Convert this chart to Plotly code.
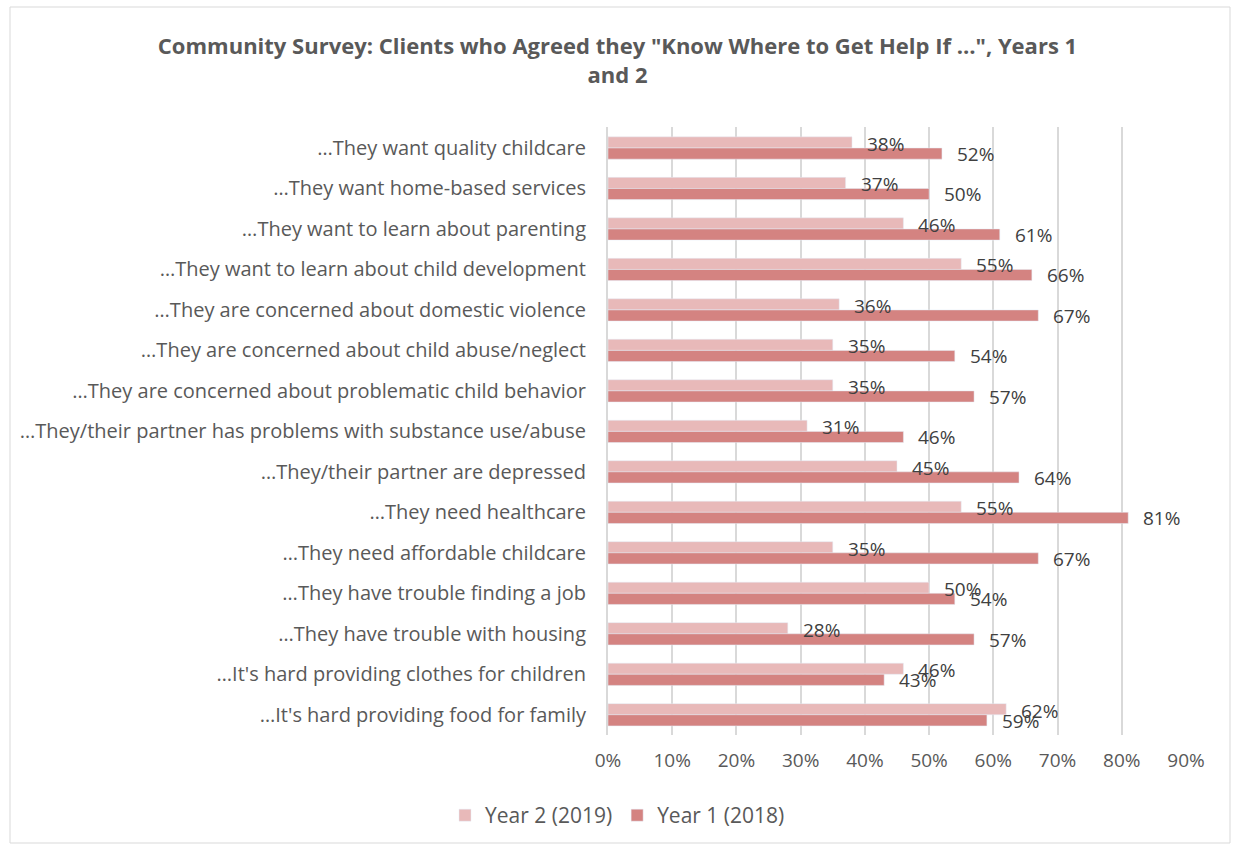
import plotly.graph_objects as go

categories = [
    "…They want quality childcare",
    "…They want home-based services",
    "…They want to learn about parenting",
    "…They want to learn about child development",
    "…They are concerned about domestic violence",
    "…They are concerned about child abuse/neglect",
    "…They are concerned about problematic child behavior",
    "…They/their partner has problems with substance use/abuse",
    "…They/their partner are depressed",
    "…They need healthcare",
    "…They need affordable childcare",
    "…They have trouble finding a job",
    "…They have trouble with housing",
    "…It's hard providing clothes for children",
    "…It's hard providing food for family",
]
year2_2019 = [38, 37, 46, 55, 36, 35, 35, 31, 45, 55, 35, 50, 28, 46, 62]
year1_2018 = [52, 50, 61, 66, 67, 54, 57, 46, 64, 81, 67, 54, 57, 43, 59]
x_ticks = [0, 10, 20, 30, 40, 50, 60, 70, 80, 90]

FONT = "Open Sans"
LIGHT = "#E8B9B9"
DARK = "#D48381"
TEXT = "#595959"

fig = go.Figure()
fig.add_trace(go.Bar(
    y=categories, x=[v / 100 for v in year2_2019], name="Year 2 (2019)",
    orientation="h", marker=dict(color=LIGHT),
))
fig.add_trace(go.Bar(
    y=categories, x=[v / 100 for v in year1_2018], name="Year 1 (2018)",
    orientation="h", marker=dict(color=DARK),
))

# value labels next to each bar end
annotations = []
for cat, v in zip(categories, year2_2019):
    annotations.append(dict(
        x=v / 100, y=cat, xref="x", yref="y", text=f"{v}%", showarrow=False,
        xanchor="left", yanchor="middle", xshift=13, yshift=4,
        font=dict(family=FONT, size=19, color="#404040"),
    ))
for cat, v in zip(categories, year1_2018):
    annotations.append(dict(
        x=v / 100, y=cat, xref="x", yref="y", text=f"{v}%", showarrow=False,
        xanchor="left", yanchor="middle", xshift=13, yshift=-6,
        font=dict(family=FONT, size=19, color="#404040"),
    ))

fig.update_layout(
    width=1235, height=846,
    margin=dict(l=608, r=49, t=127, b=111),
    paper_bgcolor="white", plot_bgcolor="white",
    barmode="group", bargap=0.45, bargroupgap=0,
    title=dict(
        text='Community Survey: Clients who Agreed they "Know Where to Get Help If …", Years 1<br>and 2',
        x=0.5, xanchor="center", xref="container", y=0.936, yanchor="top",
        font=dict(family=FONT, size=22, color=TEXT, weight="bold"),
    ),
    xaxis=dict(
        range=[0, 0.9], tickvals=[t / 100 for t in x_ticks],
        ticktext=[f"{t}%" for t in x_ticks],
        showgrid=True, gridcolor="#D9D9D9", gridwidth=2,
        zeroline=False, showline=False, ticks="", ticklabelstandoff=12,
        tickfont=dict(family=FONT, size=19, color=TEXT),
    ),
    yaxis=dict(
        autorange="reversed", showgrid=False, zeroline=False,
        showline=True, linecolor="#D9D9D9", linewidth=2,
        ticks="", ticklabelstandoff=16,
        tickfont=dict(family=FONT, size=20, color=TEXT),
    ),
    legend=dict(
        orientation="h", x=0.5, xref="container", xanchor="center",
        y=0.036, yref="container", yanchor="middle",
        font=dict(family=FONT, size=21, color=TEXT),
        traceorder="normal", itemwidth=30,
    ),
    annotations=annotations,
    shapes=[dict(
        type="rect", xref="paper", yref="paper",
        x0=-598 / 578, x1=1 + 44 / 578, y0=-108 / 608, y1=1 + 120 / 608,
        line=dict(color="#D9D9D9", width=1), fillcolor="rgba(0,0,0,0)", layer="below",
    )],
    showlegend=True,
)

fig.write_html("out.html")
